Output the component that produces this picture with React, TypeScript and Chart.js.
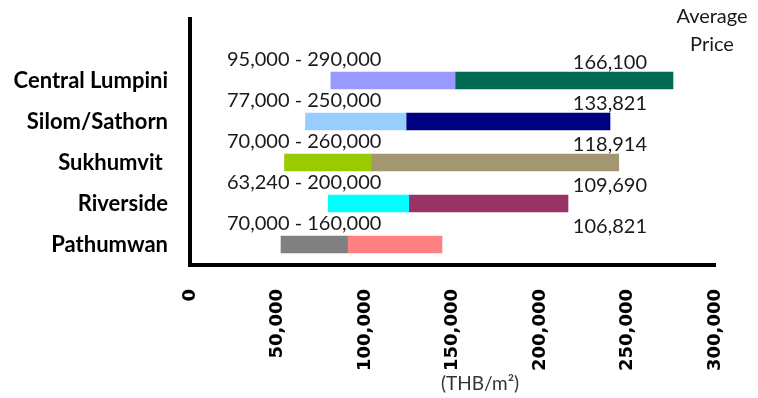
import { useEffect, useRef } from "react";
import { Chart, registerables } from "chart.js";

Chart.register(...registerables);

const categories = ["Central Lumpini", "Silom/Sathorn", "Sukhumvit ", "Riverside", "Pathumwan"];
const rangeStart = [80500, 66000, 54000, 79000, 52000];
const rangeMid = [151500, 123500, 103500, 125000, 90000];
const rangeEnd = [276000, 240000, 245000, 216000, 144000];
const rangeLabels = ["95,000 - 290,000", "77,000 - 250,000", "70,000 - 260,000", "63,240 - 200,000", "70,000 - 160,000"];
const averageLabels = ["166,100", "133,821", "118,914", "109,690", "106,821"];
const lowColors = ["#9999FF", "#99CCFF", "#99CC00", "#00FFFF", "#808080"];
const highColors = ["#006A55", "#000080", "#A39770", "#993366", "#FF8080"];
const xMin = 0;
const xMax = 300000;
const xStep = 50000;
const unitLabel = "(THB/m²)";
const cornerTitle = ["Average", "Price"];

const textPlugin = {
  id: "textPlugin",
  afterDatasetsDraw(chart: any) {
    const { ctx, chartArea } = chart;
    const meta = chart.getDatasetMeta(0);
    ctx.save();
    ctx.fillStyle = "#1a1a1a";
    ctx.font = "20px Lato, sans-serif";
    ctx.textBaseline = "middle";
    categories.forEach((_, i) => {
      const el = meta.data[i + 1];
      if (!el) return;
      const y = el.y;
      ctx.textAlign = "left";
      ctx.fillText(rangeLabels[i], chartArea.left + 37, y - 21);
      ctx.textAlign = "right";
      ctx.fillText(averageLabels[i], chartArea.left + 457, y - 18);
    });
    ctx.textAlign = "center";
    ctx.fillText(cornerTitle[0], chartArea.right - 3, 17);
    ctx.fillText(cornerTitle[1], chartArea.right - 3, 45);
    ctx.fillStyle = "#333";
    ctx.font = "19px Lato, sans-serif";
    ctx.fillText(unitLabel, chartArea.left + 290, 384);
    ctx.restore();
  },
};

export default function App() {
  const ref = useRef<HTMLCanvasElement>(null);
  useEffect(() => {
    document.body.style.margin = "0";
    const labels = ["", ...categories];
    const chart = new Chart(ref.current!, {
      type: "bar",
      data: {
        labels,
        datasets: [
          {
            data: [null, ...categories.map((_, i) => [rangeStart[i], rangeMid[i]])] as any,
            backgroundColor: ["#fff", ...lowColors],
            barThickness: 17,
            grouped: false,
          },
          {
            data: [null, ...categories.map((_, i) => [rangeMid[i], rangeEnd[i]])] as any,
            backgroundColor: ["#fff", ...highColors],
            barThickness: 17,
            grouped: false,
          },
        ],
      },
      options: {
        indexAxis: "y",
        responsive: false,
        animation: false,
        layout: { padding: { top: 19, right: 43, left: 0, bottom: 0 } },
        plugins: { legend: { display: false }, tooltip: { enabled: false } },
        scales: {
          x: {
            min: xMin,
            max: xMax,
            grid: { display: false, drawTicks: false },
            border: { display: true, color: "#000", width: 4 },
            ticks: {
              stepSize: xStep,
              minRotation: 90,
              maxRotation: 90,
              padding: 24,
              color: "#000",
              font: { family: "'DejaVu Sans', sans-serif", weight: "bold", size: 18 },
              callback: (v: any) => Number(v).toLocaleString("en-US"),
            },
            afterFit: (s: any) => {
              s.height = 133;
              s.paddingLeft = 0;
              s.paddingRight = 0;
            },
          },
          y: {
            grid: { display: false, drawTicks: false },
            border: { display: true, color: "#000", width: 4 },
            ticks: {
              padding: 22,
              color: "#000",
              font: { family: "Lato, sans-serif", weight: "bold", size: 22 },
            },
            afterFit: (s: any) => {
              s.width = 190;
              s.paddingTop = 0;
              s.paddingBottom = 0;
            },
          },
        },
      },
      plugins: [textPlugin],
    });
    return () => chart.destroy();
  }, []);
  return (
    <div style={{ position: "absolute", left: 0, top: 0, width: 758, height: 398 }}>
      <canvas ref={ref} width={758} height={398} />
    </div>
  );
}
